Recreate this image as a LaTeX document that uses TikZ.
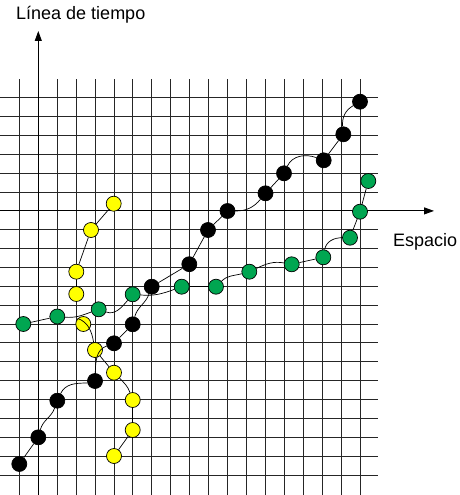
\documentclass[tikz,border=0pt]{standalone}
\usepackage{fontspec}
\setmainfont{Liberation Sans}
\usetikzlibrary{arrows.meta}
\definecolor{dotgreen}{RGB}{0,166,81}
\definecolor{dotyellow}{RGB}{255,255,0}
\tikzset{
  gridline/.style={draw=black!85, line width=0.9pt},
  axisline/.style={draw=black, line width=0.9pt, -{Triangle[length=10pt,width=7pt]}},
  dotbase/.style={circle, draw=black, line width=0.7pt, minimum size=15pt, inner sep=0pt},
  blackdot/.style={dotbase, fill=black},
  yellowdot/.style={dotbase, fill=dotyellow},
  greendot/.style={dotbase, fill=dotgreen},
  link/.style={draw=black, line width=0.7pt},
  lbl/.style={inner sep=0pt, font=\fontsize{18}{20}\selectfont}
}
\begin{document}
\begin{tikzpicture}[x=1pt,y=1pt]
\useasboundingbox (0,0) rectangle (460,-495);
% grid
\foreach \k in {0,...,18}{
  \draw[gridline] ({19.3+18.93*\k},-79) -- ({19.3+18.93*\k},-495);
}
\foreach \k in {0,...,20}{
  \draw[gridline] (0,{-97.7-18.865*\k}) -- (378,{-97.7-18.865*\k});
}
% axes
\coordinate (yaxS) at (38.3,-495);
\coordinate (yaxE) at (38.3,-31);
\coordinate (xaxS) at (0,-210.9);
\coordinate (xaxE) at (434,-210.9);
\draw[axisline] (yaxS) -- (yaxE);
\draw[axisline] (xaxS) -- (xaxE);
\node[lbl, anchor=base west] (tlabel) at (16,-20) {Línea de tiempo};
\node[lbl, anchor=base west] (slabel) at (393,-246) {Espacio};
% black dots
\node[blackdot] (b1) at (19.3,-464) {};
\node[blackdot] (b2) at (38.3,-437.3) {};
\node[blackdot] (b3) at (57.3,-400.7) {};
\node[blackdot] (b4) at (95,-381) {};
\node[blackdot] (b5) at (114,-343.3) {};
\node[blackdot] (b6) at (132.7,-324.3) {};
\node[blackdot] (b7) at (151.7,-286.7) {};
\node[blackdot] (b8) at (189.3,-264.2) {};
\node[blackdot] (b9) at (208,-230) {};
\node[blackdot] (b10) at (227.5,-211) {};
\node[blackdot] (b11) at (265.5,-193.3) {};
\node[blackdot] (b12) at (284,-173.3) {};
\node[blackdot] (b13) at (323.7,-160.3) {};
\node[blackdot] (b14) at (343.3,-134.3) {};
\node[blackdot] (b15) at (360,-101.7) {};
% yellow dots
\node[yellowdot] (y1) at (113.7,-203.7) {};
\node[yellowdot] (y2) at (91,-230) {};
\node[yellowdot] (y3) at (76.3,-271.7) {};
\node[yellowdot] (y4) at (76.3,-294) {};
\node[yellowdot] (y5) at (83.3,-324) {};
\node[yellowdot] (y6) at (95,-350) {};
\node[yellowdot] (y7) at (114,-372.7) {};
\node[yellowdot] (y8) at (132.7,-400) {};
\node[yellowdot] (y9) at (132.7,-430) {};
\node[yellowdot] (y10) at (114,-456) {};
% green dots
\node[greendot] (g1) at (23.3,-324) {};
\node[greendot] (g2) at (57.3,-316.5) {};
\node[greendot] (g3) at (98.7,-309.3) {};
\node[greendot] (g4) at (132.7,-294.3) {};
\node[greendot] (g5) at (181.7,-286.7) {};
\node[greendot] (g6) at (216,-286.7) {};
\node[greendot] (g7) at (249.3,-271.7) {};
\node[greendot] (g8) at (291.7,-264.3) {};
\node[greendot] (g9) at (323.3,-257.3) {};
\node[greendot] (g10) at (350,-237.7) {};
\node[greendot] (g11) at (360,-211.7) {};
\node[greendot] (g12) at (368.3,-181) {};
% black links
\draw[link] (b1) -- (b2);
\draw[link] (b2) to[out=75,in=-110] (b3);
\draw[link] (b3) to[out=65,in=180] (b4.195);
\draw[link] (b4) to[out=88,in=200] (b5);
\draw[link] (b5) -- (b6);
\draw[link] (b6) to[out=75,in=-110] (b7);
\draw[link] (b7) -- (b8);
\draw[link] (b8) -- (b9);
\draw[link] (b9) -- (b10);
\draw[link] (b10) to[out=0,in=230] (b11);
\draw[link] (b11) -- (b12);
\draw[link] (b12) to[out=65,in=160] (b13);
\draw[link] (b13) -- (b14);
\draw[link] (b14) to[out=95,in=210] (b15);
% yellow links
\draw[link] (y1) -- (y2);
\draw[link] (y2) -- (y3);
\draw[link] (y3) -- (y4);
\draw[link] (y5.135) to[out=-20,in=100] (y6);
\draw[link] (y6) -- (y7);
\draw[link] (y7) to[out=-45,in=110] (y8);
\draw[link] (y8) -- (y9);
\draw[link] (y9) -- (y10);
% green links
\draw[link] (g1) -- (g2);
\draw[link] (g2) to[out=-5,in=200] (g3);
\draw[link] (g3) to[out=-20,in=230] (g4);
\draw[link] (g4) to[out=-5,in=200] (g5);
\draw[link] (g5) -- (g6);
\draw[link] (g6) to[out=45,in=195] (g7);
\draw[link] (g7) to[out=25,in=170] (g8);
\draw[link] (g8) -- (g9);
\draw[link] (g9) to[out=80,in=180] (g10);
\draw[link] (g10) -- (g11);
\draw[link] (g11) -- (g12);
\end{tikzpicture}
\end{document}
